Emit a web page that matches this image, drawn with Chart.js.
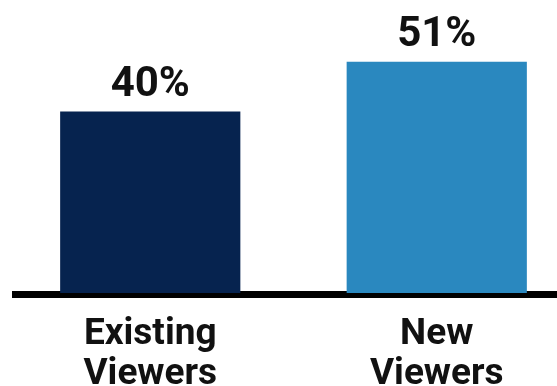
<!DOCTYPE html>
<html>
<head>
<meta charset="utf-8">
<script src="https://cdn.jsdelivr.net/npm/chart.js@4"></script>
<style>
  html, body { margin: 0; padding: 0; background: #fff; overflow: hidden; }
  #wrap { width: 580px; height: 386px; }
</style>
</head>
<body>
<div id="wrap"><canvas id="chart" width="580" height="386"></canvas></div>
<script>
const categories = [["Existing", "Viewers"], ["New", "Viewers"]];
const shares = [40, 51];
const barColors = ["#06234f", "#2a88bf"];

// thick black baseline under the bars
const baseline = {
  id: "baseline",
  beforeDatasetsDraw(chart) {
    const ctx = chart.ctx;
    const y0 = chart.scales.y.getPixelForValue(0);
    ctx.save();
    ctx.fillStyle = "#000";
    ctx.fillRect(12, y0 - 2, chart.width, 7);
    ctx.restore();
  }
};

// percentage labels above bars
const valueLabels = {
  id: "valueLabels",
  afterDatasetsDraw(chart) {
    const ctx = chart.ctx;
    const meta = chart.getDatasetMeta(0);
    ctx.save();
    ctx.font = "bold 42px Roboto";
    ctx.fillStyle = "#111";
    ctx.textAlign = "center";
    ctx.textBaseline = "alphabetic";
    meta.data.forEach((bar, i) => {
      ctx.fillText(shares[i] + "%", bar.x, bar.y - 16);
    });
    ctx.restore();
  }
};

new Chart(document.getElementById("chart"), {
  type: "bar",
  data: {
    labels: categories,
    datasets: [{
      data: shares,
      backgroundColor: barColors,
      borderWidth: 0,
      barPercentage: 0.629,
      categoryPercentage: 1
    }]
  },
  options: {
    responsive: false,
    animation: false,
    layout: { padding: { left: 7, right: 0, top: 0, bottom: 0 } },
    plugins: { legend: { display: false }, tooltip: { enabled: false } },
    scales: {
      x: {
        grid: { display: false },
        border: { display: false },
        ticks: {
          color: "#111",
          padding: 13.5,
          font: { family: "Roboto", size: 37, weight: "bold", lineHeight: 1.08 }
        },
        afterFit(scale) { scale.height = 93; }
      },
      y: {
        display: false,
        min: 0,
        max: 64.6
      }
    }
  },
  plugins: [baseline, valueLabels]
});
</script>
</body>
</html>
